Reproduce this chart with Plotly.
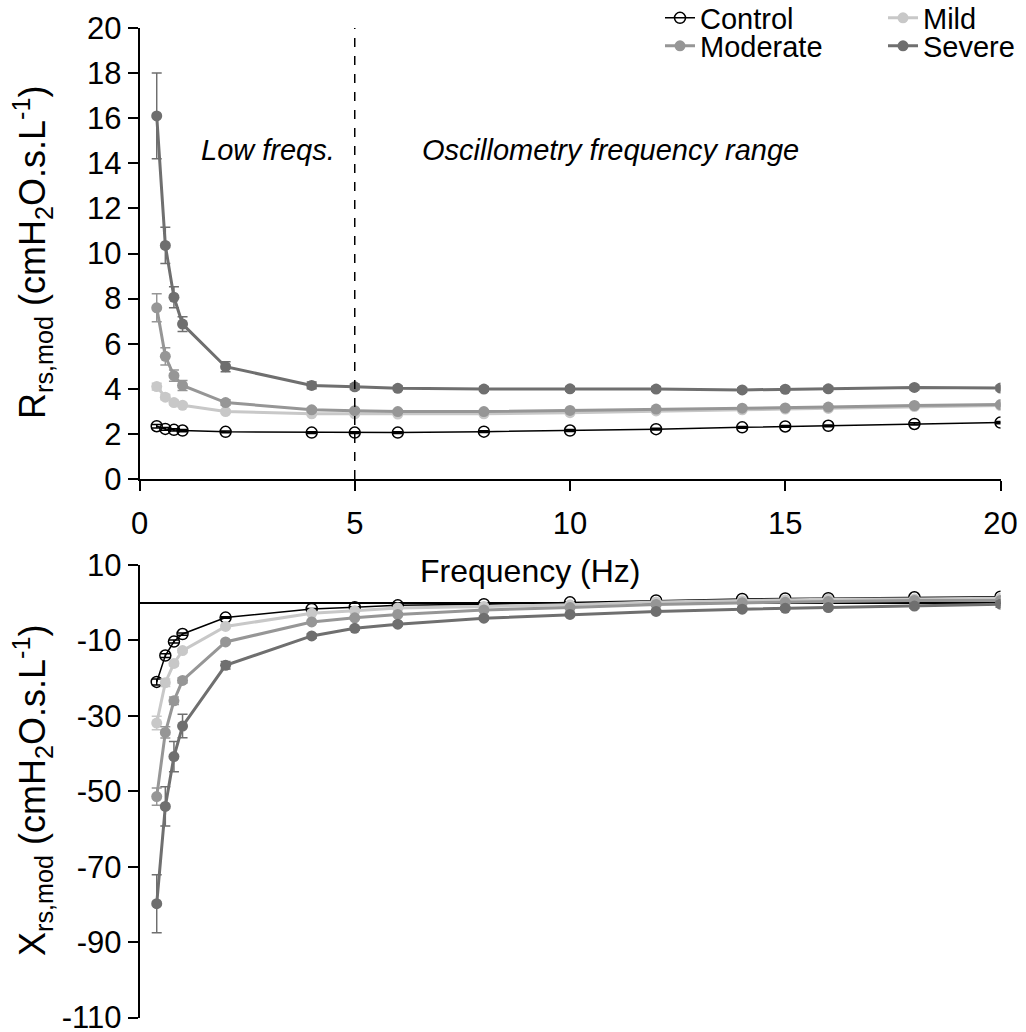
import plotly.graph_objects as go

# ---------------- data ----------------
freq = [0.4, 0.6, 0.8, 1, 2, 4, 5, 6, 8, 10, 12, 14, 15, 16, 18, 20]
groups = ["Control", "Mild", "Moderate", "Severe"]

r_control = [2.34, 2.22, 2.18, 2.15, 2.09, 2.06, 2.06, 2.06, 2.10, 2.15, 2.21, 2.29, 2.33, 2.36, 2.44, 2.50]
r_mild = [4.10, 3.63, 3.39, 3.27, 2.99, 2.89, 2.89, 2.88, 2.89, 2.94, 3.02, 3.07, 3.10, 3.13, 3.21, 3.26]
r_moderate = [7.59, 5.44, 4.58, 4.15, 3.39, 3.07, 3.03, 2.99, 2.99, 3.04, 3.10, 3.14, 3.15, 3.19, 3.26, 3.30]
r_severe = [16.10, 10.36, 8.06, 6.87, 4.98, 4.15, 4.09, 4.02, 3.99, 4.00, 3.99, 3.95, 3.98, 4.00, 4.06, 4.03]

r_control_err = [0.08, 0.06, 0.05, 0.05, 0.04, 0.04, 0.04, 0.04, 0.04, 0.04, 0.04, 0.04, 0.04, 0.04, 0.05, 0.05]
r_mild_err = [0.15, 0.12, 0.10, 0.08, 0.06, 0.05, 0.05, 0.05, 0.05, 0.05, 0.05, 0.05, 0.05, 0.05, 0.05, 0.05]
r_moderate_err = [0.62, 0.38, 0.25, 0.22, 0.12, 0.08, 0.07, 0.07, 0.06, 0.06, 0.06, 0.06, 0.06, 0.06, 0.07, 0.07]
r_severe_err = [1.90, 0.80, 0.47, 0.33, 0.22, 0.15, 0.12, 0.10, 0.10, 0.10, 0.10, 0.10, 0.10, 0.10, 0.10, 0.10]

x_control = [-21.0, -14.0, -10.3, -8.3, -3.95, -1.66, -1.2, -0.7, -0.4, 0.1, 0.6, 1.0, 1.15, 1.2, 1.45, 1.6]
x_mild = [-31.9, -21.2, -16.1, -12.7, -6.3, -2.8, -2.1, -1.4, -1.0, -0.55, 0.2, 0.55, 0.75, 0.9, 1.0, 1.2]
x_moderate = [-51.4, -34.4, -26.0, -20.6, -10.4, -5.1, -4.0, -3.1, -1.9, -1.3, -0.45, 0.0, 0.1, 0.35, 0.6, 0.6]
x_severe = [-79.8, -54.0, -40.8, -32.7, -16.6, -8.8, -6.8, -5.7, -4.1, -3.1, -2.3, -1.7, -1.5, -1.3, -0.9, -0.4]

x_control_err = [0.8, 0.5, 0.4, 0.3, 0.2, 0.15, 0.15, 0.15, 0.15, 0.15, 0.15, 0.15, 0.15, 0.15, 0.15, 0.15]
x_mild_err = [1.8, 1.0, 0.6, 0.5, 0.3, 0.2, 0.2, 0.2, 0.2, 0.2, 0.2, 0.2, 0.2, 0.2, 0.2, 0.2]
x_moderate_err = [2.3, 1.5, 1.0, 0.7, 0.4, 0.3, 0.3, 0.3, 0.3, 0.3, 0.3, 0.3, 0.3, 0.3, 0.3, 0.3]
x_severe_err = [7.7, 5.2, 4.0, 3.1, 1.0, 0.6, 0.5, 0.5, 0.5, 0.5, 0.5, 0.5, 0.5, 0.5, 0.6, 0.8]

x_ticks = [0, 5, 10, 15, 20]
r_ticks = [0, 2, 4, 6, 8, 10, 12, 14, 16, 18, 20]
x_react_ticks = [10, -10, -30, -50, -70, -90, -110]
x_react_labels = ["10", "-10", "-30", "-50", "-70", "-90", "-110"]

# ---------------- styling ----------------
W, H = 1026, 1032
FONT = "Liberation Sans, Arial, sans-serif"
FS = 29        # annotations / legend
TFS = 31       # tick labels
TITLE_FS = 36  # y-axis titles
colors = {"Control": "#000000", "Mild": "#c8c8c8", "Moderate": "#969696", "Severe": "#6f6f6f"}
lw = {"Control": 1.5, "Mild": 3, "Moderate": 3, "Severe": 3}
legend_ids = {"Control": "legend", "Mild": "legend2", "Moderate": "legend3", "Severe": "legend4"}

R = {"Control": (r_control, r_control_err), "Mild": (r_mild, r_mild_err),
     "Moderate": (r_moderate, r_moderate_err), "Severe": (r_severe, r_severe_err)}
X = {"Control": (x_control, x_control_err), "Mild": (x_mild, x_mild_err),
     "Moderate": (x_moderate, x_moderate_err), "Severe": (x_severe, x_severe_err)}

def px_x(p):
    return p / W

def px_y(p):
    return 1 - p / H

fig = go.Figure()

for g in groups:
    col = colors[g]
    if g == "Control":
        marker = dict(symbol="circle-open", size=11, color=col, line=dict(width=1.5, color=col))
    else:
        marker = dict(symbol="circle", size=11, color=col)
    for data, xa, ya, show in ((R, "x", "y", True), (X, "x2", "y2", False)):
        vals, errs = data[g]
        fig.add_trace(go.Scatter(
            x=freq, y=vals, mode="lines+markers", name=g,
            line=dict(color=col, width=lw[g]), marker=marker,
            error_y=dict(type="data", array=errs, visible=True, color=col,
                         thickness=1.5, width=5),
            xaxis=xa, yaxis=ya, showlegend=show, legend=legend_ids[g],
        ))

xdom = [px_x(139.5), px_x(1000.5)]
axis_common = dict(showgrid=False, showline=True, linecolor="black",
                   linewidth=1.5, ticks="outside", ticklen=10, tickwidth=1.5,
                   tickcolor="black", ticklabeloverflow="allow",
                   tickfont=dict(family=FONT, size=TFS, color="black"))

fig.update_layout(
    width=W, height=H,
    margin=dict(l=0, r=0, t=0, b=0, autoexpand=False),
    paper_bgcolor="white", plot_bgcolor="white",
    font=dict(family=FONT, size=FS, color="black"),
    xaxis=dict(domain=xdom, range=[0, 20], tickvals=x_ticks, anchor="y", zeroline=False,
               ticklabelstandoff=6, **axis_common),
    yaxis=dict(domain=[px_y(479), px_y(28)], range=[0, 20], tickvals=r_ticks, anchor="x",
               zeroline=False, **axis_common),
    xaxis2=dict(domain=xdom, range=[0, 20], anchor="y2", showgrid=False, zeroline=False,
                showline=False, ticks="", showticklabels=False),
    yaxis2=dict(domain=[px_y(1017.6), px_y(565)], range=[-110, 10], tickvals=x_react_ticks,
                ticktext=x_react_labels,
                anchor="x2", zeroline=True, zerolinecolor="black", zerolinewidth=1.5,
                **axis_common),
)

leg_common = dict(xanchor="left", yanchor="middle", bgcolor="rgba(0,0,0,0)",
                  font=dict(family=FONT, size=FS, color="black"), borderwidth=0)
fig.update_layout(
    legend=dict(x=px_x(660), y=px_y(18), **leg_common),
    legend2=dict(x=px_x(883), y=px_y(18), **leg_common),
    legend3=dict(x=px_x(660), y=px_y(46), **leg_common),
    legend4=dict(x=px_x(883), y=px_y(46), **leg_common),
)

# dashed boundary at 5 Hz
fig.add_shape(type="line", xref="x", yref="y", x0=5, x1=5, y0=0, y1=20,
              line=dict(color="black", width=1.5, dash="dash"))

ann_font = dict(family=FONT, size=FS, color="black")
fig.add_annotation(xref="x", yref="y", x=2.98, y=14.6, text="<i>Low freqs.</i>",
                   xanchor="center", yanchor="middle", showarrow=False, font=ann_font)
fig.add_annotation(xref="x", yref="y", x=10.93, y=14.6, text="<i>Oscillometry frequency range</i>",
                   xanchor="center", yanchor="middle", showarrow=False, font=ann_font)
fig.add_annotation(xref="paper", yref="paper", x=px_x(530), y=px_y(571), text="Frequency (Hz)",
                   xanchor="center", yanchor="middle", showarrow=False,
                   font=dict(family=FONT, size=32, color="black"))
fig.add_annotation(xref="paper", yref="paper", x=px_x(32), y=px_y(253), textangle=-90,
                   text="R<sub>rs,mod</sub> (cmH<sub>2</sub>O.s.L<sup>-1</sup>)",
                   xanchor="center", yanchor="middle", showarrow=False,
                   font=dict(family=FONT, size=TITLE_FS, color="black"))
fig.add_annotation(xref="paper", yref="paper", x=px_x(32), y=px_y(791), textangle=-90,
                   text="X<sub>rs,mod</sub> (cmH<sub>2</sub>O.s.L<sup>-1</sup>)",
                   xanchor="center", yanchor="middle", showarrow=False,
                   font=dict(family=FONT, size=TITLE_FS, color="black"))

fig.write_html("out.html")
